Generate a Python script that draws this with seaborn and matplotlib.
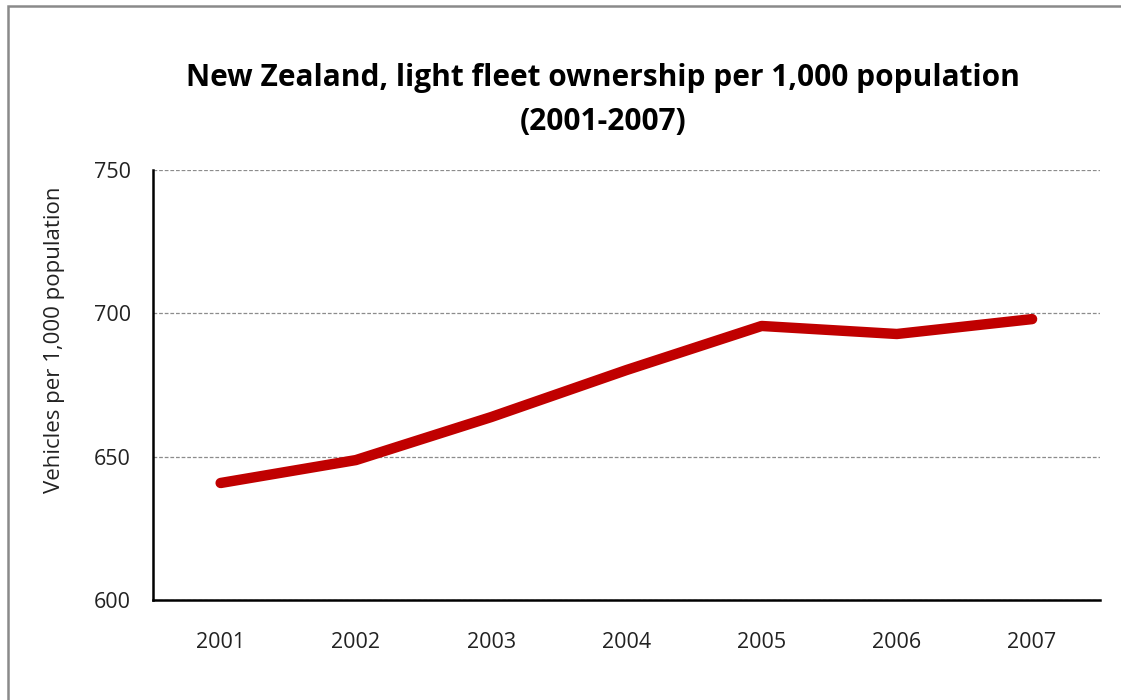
import matplotlib
matplotlib.use("Agg")
import matplotlib.pyplot as plt
import seaborn as sns
import pandas as pd
from matplotlib.patches import Rectangle

# --- data ---
years = ['2001', '2002', '2003', '2004', '2005', '2006', '2007']
vehicles = [640.8, 648.8, 663.8, 680.2, 695.6, 692.8, 698.0]
df = pd.DataFrame({'Year': years, 'Vehicles': vehicles})

# --- style ---
sns.set_theme(style="white")
plt.rcParams['font.family'] = ['Open Sans', 'DejaVu Sans']
plt.rcParams['text.color'] = '#000000'

fig = plt.figure(figsize=(11.21, 7.0), dpi=100)
ax = fig.add_axes([0.1365, 0.143, 0.8445, 0.614])

sns.lineplot(data=df, x='Year', y='Vehicles', ax=ax, color='#C00000',
             linewidth=7.5, sort=False, solid_capstyle='round', solid_joinstyle='round')

ax.set_xlim(-0.5, len(years) - 0.5)
ax.set_ylim(600, 750)
ax.set_yticks([600, 650, 700, 750])
ax.yaxis.grid(True, linestyle=(0, (3, 1.5)), color='#8c8c8c', linewidth=0.9)
ax.xaxis.grid(False)

for side in ['top', 'right']:
    ax.spines[side].set_visible(False)
for side in ['left', 'bottom']:
    ax.spines[side].set_color('black')
    ax.spines[side].set_linewidth(1.8)

ax.tick_params(axis='both', length=0, labelsize=15.5, colors='#222222')
ax.tick_params(axis='x', pad=23)
ax.tick_params(axis='y', pad=16)
ax.set_xlabel('')
ax.set_ylabel('Vehicles per 1,000 population', fontsize=16, color='#222222')
ax.yaxis.set_label_coords(-0.1045, 0.605)
ax.yaxis.label.set_va('center')

fig.text(0.538, 0.857, 'New Zealand, light fleet ownership per 1,000 population\n(2001-2007)',
         fontsize=21.5, fontweight='bold', ha='center', va='center', linespacing=1.6)

# outer chart border (only top and left edges fall inside the image)
fig.patches.append(Rectangle((0.0071, -0.05), 1.05, 1.041, transform=fig.transFigure,
                             fill=False, edgecolor='#8a8a8a', linewidth=1.8))

fig.savefig('out.png', dpi=100)
